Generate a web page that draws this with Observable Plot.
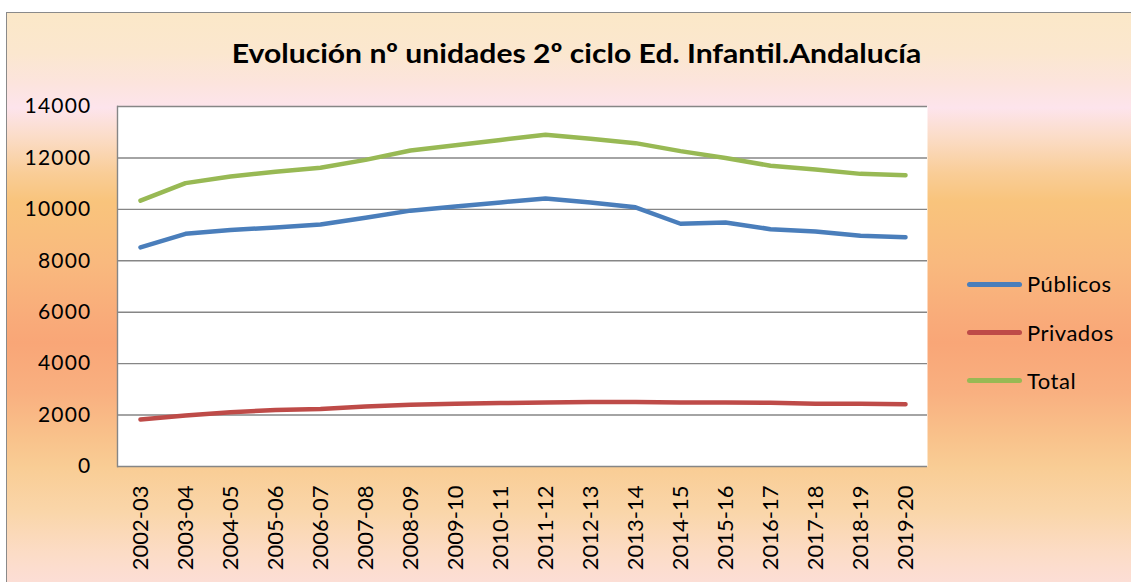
<!DOCTYPE html>
<html>
<head>
<meta charset="utf-8">
<script src="https://cdn.jsdelivr.net/npm/d3@7"></script>
<script src="https://cdn.jsdelivr.net/npm/@observablehq/plot@0.6"></script>
<style>
  html, body { margin: 0; padding: 0; background: #fff; }
  #wrap { position: relative; width: 1131px; height: 582px; overflow: hidden; background: #fff; font-family: Lato, "Open Sans", sans-serif; }
  #bg { position: absolute; left: 6px; top: 12px; width: 1200px; height: 620px; border: 1px solid #8a8a8a; box-sizing: border-box;
    background: linear-gradient(to bottom,
      #fbe8c8 0px, #fbe7cf 40px, #fce4dd 70px, #fde4ec 95px, #fbdcc6 125px, #f9cd97 160px, #f9c47c 188px,
      #f9b97e 250px, #f9aa79 310px, #f9a677 330px, #f9b080 380px, #f9c28b 425px, #f9cd95 455px, #fad6aa 500px,
      #fcdcc6 540px, #fcded6 570px, #fcded6 620px); }
  #chart { position: absolute; left: 0; top: 0; }
  #title { position: absolute; left: 0; width: 1153px; top: 39px; text-align: center; font-weight: bold; font-size: 27px; line-height: 27px; color: #000; white-space: nowrap; transform: scaleX(1.115); transform-origin: 576.5px 0; }
  .lg { position: absolute; left: 967px; height: 22px; display: flex; align-items: center; font-size: 22px; line-height: 22px; color: #000; white-space: nowrap; letter-spacing: 0.5px; }
  .lg .sw { width: 55px; height: 5px; border-radius: 2.5px; margin-right: 5px; }
  #chart svg g[aria-label="y-axis tick label"] text { letter-spacing: 1.2px; }
</style>
</head>
<body>
<div id="wrap">
  <div id="bg"></div>
  <div id="chart"></div>
  <div id="title">Evolución nº unidades 2º ciclo Ed. Infantil.Andalucía</div>
  <div id="legend"></div>
</div>
<script>
const years = ["2002-03","2003-04","2004-05","2005-06","2006-07","2007-08","2008-09","2009-10","2010-11","2011-12","2012-13","2013-14","2014-15","2015-16","2016-17","2017-18","2018-19","2019-20"];
const publicos = [8520, 9050, 9200, 9290, 9410, 9670, 9950, 10110, 10270, 10420, 10270, 10080, 9440, 9490, 9230, 9140, 8970, 8920];
const privados = [1830, 1980, 2110, 2200, 2240, 2330, 2400, 2440, 2465, 2490, 2510, 2510, 2490, 2490, 2480, 2440, 2440, 2425];
const total = [10340, 11020, 11280, 11460, 11615, 11925, 12290, 12495, 12700, 12900, 12745, 12575, 12265, 12000, 11695, 11550, 11380, 11330];
const seriesNames = ["Públicos", "Privados", "Total"];
const yTicks = [0, 2000, 4000, 6000, 8000, 10000, 12000, 14000];

const seriesValues = [publicos, privados, total];
const data = seriesNames.flatMap((s, k) => years.map((yr, i) => ({series: s, year: yr, value: seriesValues[k][i]})));
const colors = ["#4a7ebb", "#be4b48", "#98b954"];

const plot = Plot.plot({
  width: 1131,
  height: 582,
  marginTop: 106,
  marginBottom: 116,
  marginLeft: 117,
  marginRight: 204,
  style: { background: "transparent", fontFamily: "Lato, 'Open Sans', sans-serif", color: "#000" },
  x: { type: "point", domain: years, padding: 0.5, label: null },
  y: { domain: [0, 14000], label: null },
  color: { domain: seriesNames, range: colors },
  marks: [
    Plot.frame({ fill: "white", stroke: null }),
    Plot.ruleY(yTicks, { stroke: "#868686", strokeWidth: 1.4 }),
    Plot.frame({ anchor: "left", stroke: "#868686", strokeWidth: 1.4 }),
    Plot.axisY({ ticks: yTicks, tickSize: 0, tickPadding: 26, fontSize: 21, fill: "#000", label: null, tickFormat: d => String(d) }),
    Plot.axisX({ tickRotate: -90, tickSize: 0, tickPadding: 19, fontSize: 22, fill: "#000", label: null }),
    Plot.line(data, { x: "year", y: "value", z: "series", stroke: "series", strokeWidth: 4.5, strokeLinecap: "round", strokeLinejoin: "round" })
  ]
});
document.getElementById("chart").appendChild(plot);

const legendTops = [273, 321.5, 369.5];
const legend = document.getElementById("legend");
seriesNames.forEach((s, k) => {
  const row = document.createElement("div");
  row.className = "lg";
  row.style.top = legendTops[k] + "px";
  const sw = document.createElement("div");
  sw.className = "sw";
  sw.style.background = colors[k];
  const t = document.createElement("span");
  t.textContent = s;
  row.appendChild(sw);
  row.appendChild(t);
  legend.appendChild(row);
});
</script>
</body>
</html>
